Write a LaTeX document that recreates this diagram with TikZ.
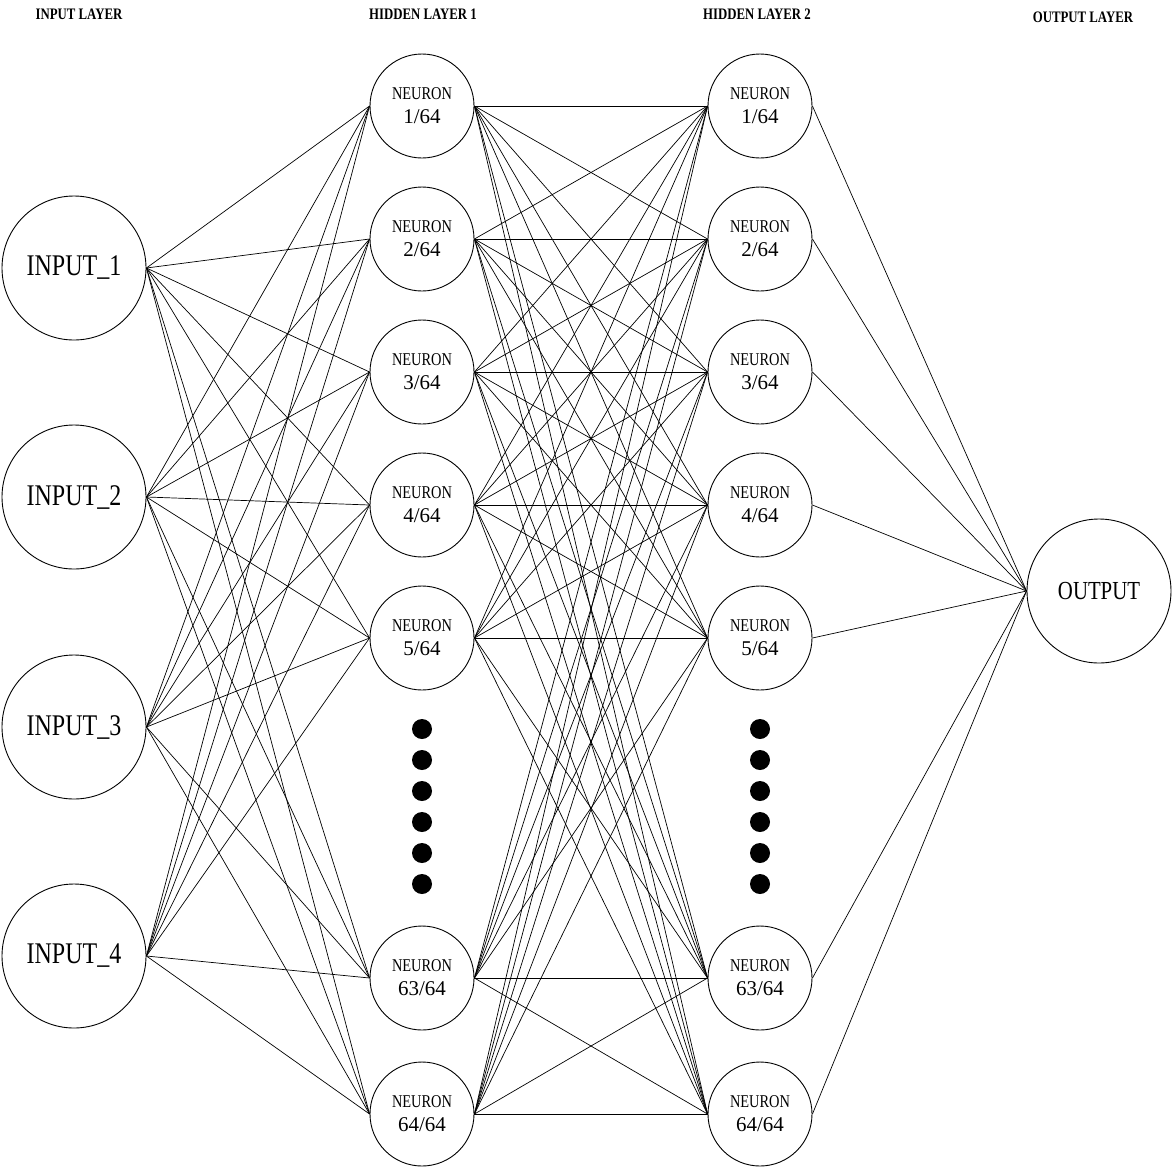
\documentclass[tikz,border=0pt]{standalone}
\usepackage{fontspec}
\setmainfont[FakeStretch=0.8]{Liberation Serif}
\newfontfamily\digfont{Liberation Serif}
\newcommand\nrn[1]{NEURON\\{\digfont\fontsize{21}{24}\selectfont #1/64}}
\begin{document}
\begin{tikzpicture}[x=1pt,y=-1pt,
  inp/.style={circle,draw,line width=0.9pt,minimum size=144pt,inner sep=0pt,font=\fontsize{30}{36}\selectfont},
  hid/.style={circle,draw,line width=0.9pt,minimum size=104pt,inner sep=0pt,align=center,font=\fontsize{18}{24}\selectfont},
  ttl/.style={font=\bfseries\fontsize{16}{19}\selectfont,inner sep=0pt},
  conn/.style={line width=0.7pt},
  bigdot/.style={circle,fill,minimum size=20pt,inner sep=0pt}]
\useasboundingbox (0,0) rectangle (1173,1168);
% titles
\node[ttl] (t0) at (79,14) {INPUT LAYER};
\node[ttl] (t1) at (423,14) {HIDDEN LAYER 1};
\node[ttl] (t2) at (757,14) {HIDDEN LAYER 2};
\node[ttl] (t3) at (1083,17) {OUTPUT LAYER};
% input layer
\node[inp] (i1) at (74,268) {INPUT\_1};
\node[inp] (i2) at (74,497) {INPUT\_2};
\node[inp] (i3) at (74,727) {INPUT\_3};
\node[inp] (i4) at (74,956) {INPUT\_4};
% hidden layers
\foreach \k/\y/\t in {1/106/1,2/239/2,3/372/3,4/505/4,5/638/5,6/978/63,7/1114/64}{
  \node[hid] (a\k) at (422,\y) {\nrn{\t}};
  \node[hid] (b\k) at (760,\y) {\nrn{\t}};
}
% dots
\foreach \k/\y in {1/729,2/760,3/791,4/822,5/853,6/884}{
  \node[bigdot] (da\k) at (422,\y) {};
  \node[bigdot] (db\k) at (760,\y) {};
}
% output
\node[inp,font=\fontsize{26}{30}\selectfont] (o) at (1099,591) {OUTPUT};
% connections
\foreach \i in {1,...,4}{\foreach \j in {1,...,7}{\draw[conn] (i\i.east) -- (a\j.west);}}
\foreach \i in {1,...,7}{\foreach \j in {1,...,7}{\draw[conn] (a\i.east) -- (b\j.west);}}
\foreach \i in {1,...,7}{\draw[conn] (b\i.east) -- (o.west);}
\end{tikzpicture}
\end{document}
